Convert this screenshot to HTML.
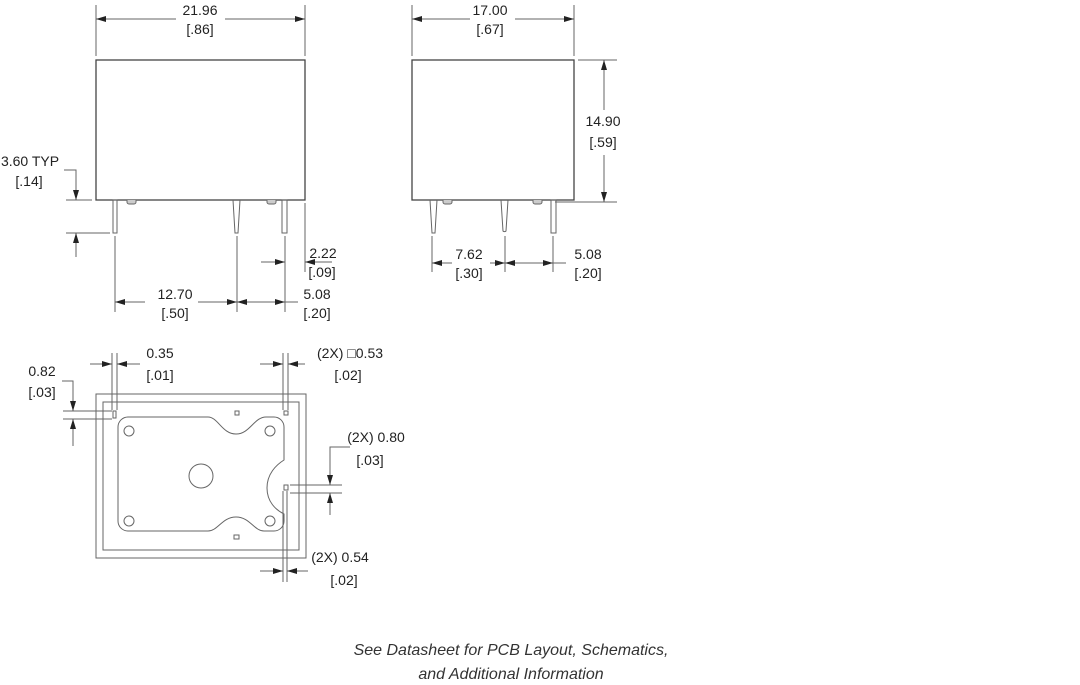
<!DOCTYPE html>
<html><head><meta charset="utf-8"><style>
html,body{margin:0;padding:0;background:#fff;}
svg{display:block;}
text{font-family:"Liberation Sans",sans-serif;font-size:14px;fill:#222;}
.it{font-style:italic;font-size:16px;fill:#333;}
</style></head><body>
<svg width="1080" height="685" viewBox="0 0 1080 685" xmlns="http://www.w3.org/2000/svg">
<defs>
<marker id="a" viewBox="0 0 10 6" refX="10" refY="3" markerWidth="10" markerHeight="6" orient="auto-start-reverse" markerUnits="userSpaceOnUse"><path d="M0,0 L10,3 L0,6 z" fill="#222"/></marker>
</defs>
<g stroke="#666" stroke-width="1" fill="none">
<!-- LEFT VIEW -->
<rect x="96" y="60" width="209" height="140" stroke="#444" stroke-width="1.3"/>
<line x1="96" y1="5" x2="96" y2="56"/><line x1="305" y1="5" x2="305" y2="56"/>
<line x1="96" y1="19" x2="176" y2="19" marker-start="url(#a)"/><line x1="225" y1="19" x2="305" y2="19" marker-end="url(#a)"/>
<rect x="113" y="200" width="4" height="33"/>
<path d="M127,200 v2 a2,2 0 0 0 2,2 h5 a2,2 0 0 0 2,-2 v-2" fill="#ccc"/>
<path d="M233,200 L235,233 H238 L240,200"/>
<path d="M267,200 v2 a2,2 0 0 0 2,2 h5 a2,2 0 0 0 2,-2 v-2" fill="#ccc"/>
<rect x="282" y="200" width="5" height="33"/>
<!-- 3.60 -->
<line x1="66" y1="200" x2="92" y2="200"/><line x1="66" y1="233" x2="110" y2="233"/>
<polyline points="64,170 76,170 76,200" marker-end="url(#a)"/>
<line x1="76" y1="257" x2="76" y2="233" marker-end="url(#a)"/>
<!-- extension lines -->
<line x1="115" y1="236" x2="115" y2="312"/><line x1="237" y1="236" x2="237" y2="312"/><line x1="285" y1="236" x2="285" y2="312"/>
<line x1="305" y1="203" x2="305" y2="272"/>
<line x1="261" y1="262" x2="285" y2="262" marker-end="url(#a)"/>
<line x1="332" y1="262" x2="305" y2="262" marker-end="url(#a)"/>
<line x1="115" y1="302" x2="145" y2="302" marker-start="url(#a)"/><line x1="198" y1="302" x2="237" y2="302" marker-end="url(#a)"/>
<line x1="237" y1="302" x2="285" y2="302" marker-start="url(#a)" marker-end="url(#a)"/>
<line x1="285" y1="302" x2="298" y2="302"/>
<!-- RIGHT VIEW -->
<rect x="412" y="60" width="162" height="140" stroke="#444" stroke-width="1.3"/>
<line x1="412" y1="5" x2="412" y2="56"/><line x1="574" y1="5" x2="574" y2="56"/>
<line x1="412" y1="19" x2="470" y2="19" marker-start="url(#a)"/><line x1="515" y1="19" x2="574" y2="19" marker-end="url(#a)"/>
<line x1="578" y1="60" x2="617" y2="60"/><line x1="555" y1="202" x2="617" y2="202"/>
<line x1="604" y1="60" x2="604" y2="110" marker-start="url(#a)"/><line x1="604" y1="155" x2="604" y2="202" marker-end="url(#a)"/>
<path d="M430,200 L432,233 H435 L437,200"/>
<path d="M443,200 v2 a2,2 0 0 0 2,2 h5 a2,2 0 0 0 2,-2 v-2" fill="#ccc"/>
<path d="M501,200 L503,231 a2,2 0 0 0 3,0 L508,200"/>
<path d="M533,200 v2 a2,2 0 0 0 2,2 h5 a2,2 0 0 0 2,-2 v-2" fill="#ccc"/>
<rect x="551" y="200" width="5" height="33"/>
<line x1="432" y1="236" x2="432" y2="272"/><line x1="505" y1="236" x2="505" y2="272"/><line x1="553" y1="236" x2="553" y2="272"/>
<line x1="432" y1="263" x2="452" y2="263" marker-start="url(#a)"/><line x1="490" y1="263" x2="505" y2="263" marker-end="url(#a)"/>
<line x1="505" y1="263" x2="553" y2="263" marker-start="url(#a)" marker-end="url(#a)"/>
<line x1="553" y1="263" x2="566" y2="263"/>
<!-- BOTTOM VIEW -->
<rect x="96" y="394" width="210" height="164"/>
<rect x="103" y="402" width="196" height="148"/>
<path d="M128,417 H208 C218,417 222,434 236,434 C250,434 254,417 266,417 H274 A10,10 0 0 1 284,427 V460 C276,465 267,474 267,488 C267,502 276,510 284,514 V521 A10,10 0 0 1 274,531 H264 C254,531 250,517 236,517 C222,517 218,531 208,531 H128 A10,10 0 0 1 118,521 V427 A10,10 0 0 1 128,417 Z"/>
<circle cx="129" cy="431" r="5"/><circle cx="270" cy="431" r="5"/><circle cx="129" cy="521" r="5"/><circle cx="270" cy="521" r="5"/>
<circle cx="201" cy="476" r="12"/>
<rect x="113" y="411" width="3" height="7"/><rect x="235" y="411" width="4" height="4"/><rect x="284" y="411" width="4" height="4"/>
<rect x="284" y="485" width="4" height="5"/><rect x="234" y="535" width="5" height="4"/>
<!-- 0.35 -->
<line x1="112" y1="353" x2="112" y2="410"/><line x1="117" y1="353" x2="117" y2="410"/>
<line x1="90" y1="364" x2="112" y2="364" marker-end="url(#a)"/><line x1="140" y1="364" x2="117" y2="364" marker-end="url(#a)"/>
<!-- 0.53 -->
<line x1="283" y1="353" x2="283" y2="410"/><line x1="288" y1="353" x2="288" y2="410"/>
<line x1="260" y1="364" x2="283" y2="364" marker-end="url(#a)"/><line x1="305" y1="364" x2="288" y2="364" marker-end="url(#a)"/>
<!-- 0.82 -->
<line x1="63" y1="411" x2="112" y2="411"/><line x1="63" y1="419" x2="112" y2="419"/>
<polyline points="62,381 73,381 73,411" marker-end="url(#a)"/>
<line x1="73" y1="446" x2="73" y2="419" marker-end="url(#a)"/>
<!-- 0.80 -->
<line x1="290" y1="485" x2="342" y2="485"/><line x1="290" y1="493" x2="342" y2="493"/>
<polyline points="350,447 330,447 330,485" marker-end="url(#a)"/>
<line x1="330" y1="515" x2="330" y2="493" marker-end="url(#a)"/>
<!-- 0.54 -->
<line x1="283" y1="491" x2="283" y2="582"/><line x1="287" y1="491" x2="287" y2="582"/>
<line x1="260" y1="571" x2="283" y2="571" marker-end="url(#a)"/><line x1="308" y1="571" x2="287" y2="571" marker-end="url(#a)"/>
</g>
<g text-anchor="middle">
<text x="200" y="15">21.96</text><text x="200" y="34">[.86]</text>
<text x="30" y="166">3.60 TYP</text><text x="29" y="186">[.14]</text>
<text x="323" y="258">2.22</text><text x="322" y="277">[.09]</text>
<text x="175" y="299">12.70</text><text x="175" y="318">[.50]</text>
<text x="317" y="299">5.08</text><text x="317" y="318">[.20]</text>
<text x="490" y="15">17.00</text><text x="490" y="34">[.67]</text>
<text x="603" y="126">14.90</text><text x="603" y="147">[.59]</text>
<text x="469" y="259">7.62</text><text x="469" y="278">[.30]</text>
<text x="588" y="259">5.08</text><text x="588" y="278">[.20]</text>
<text x="160" y="358">0.35</text><text x="160" y="380">[.01]</text>
<text x="350" y="358">(2X) □0.53</text><text x="348" y="380">[.02]</text>
<text x="42" y="376">0.82</text><text x="42" y="397">[.03]</text>
<text x="376" y="442">(2X) 0.80</text><text x="370" y="465">[.03]</text>
<text x="340" y="562">(2X) 0.54</text><text x="344" y="585">[.02]</text>
<text class="it" x="511" y="655">See Datasheet for PCB Layout, Schematics,</text>
<text class="it" x="511" y="679">and Additional Information</text>
</g>
</svg>
</body></html>
